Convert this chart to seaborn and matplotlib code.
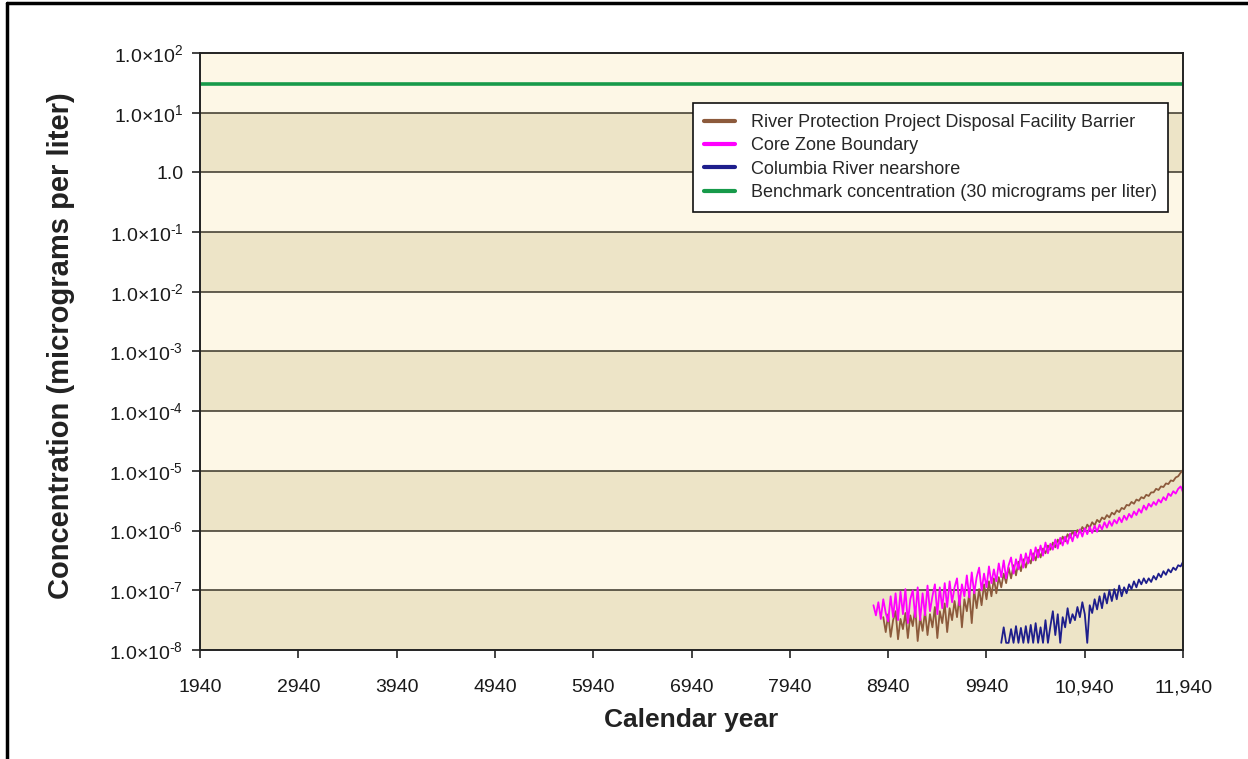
import numpy as np
import pandas as pd
import matplotlib.pyplot as plt
import seaborn as sns
from matplotlib.lines import Line2D
from matplotlib.ticker import NullLocator

# Values (log10 of concentration, micrograms per liter)
core_years = list(range(8790, 11941, 25))
core_log10 = [
    -7.25, -7.42, -7.20, -7.48, -7.15, -7.38, -7.52, -7.10, -7.45, -7.05,
    -7.50, -7.02, -7.40, -6.98, -7.55, -7.15, -7.00, -7.45, -6.95, -7.50,
    -7.05, -7.42, -6.92, -7.35, -7.10, -6.90, -7.40, -6.95, -7.30, -6.88,
    -7.28, -6.85, -7.20, -6.95, -6.80, -7.25, -6.90, -7.10, -6.75, -7.12,
    -6.70, -7.05, -6.78, -6.62, -7.00, -6.72, -6.95, -6.60, -6.88, -6.65,
    -6.85, -6.55, -6.78, -6.50, -6.80, -6.58, -6.45, -6.72, -6.48, -6.65,
    -6.40, -6.62, -6.38, -6.55, -6.32, -6.50, -6.28, -6.45, -6.25, -6.42,
    -6.20, -6.38, -6.22, -6.32, -6.15, -6.30, -6.12, -6.25, -6.10, -6.22,
    -6.05, -6.18, -6.02, -6.12, -5.98, -6.10, -5.96, -6.06, -5.94, -6.04,
    -5.92, -6.02, -5.90, -5.98, -5.86, -5.95, -5.84, -5.92, -5.82, -5.88,
    -5.78, -5.86, -5.75, -5.82, -5.72, -5.78, -5.68, -5.74, -5.64, -5.70,
    -5.58, -5.65, -5.55, -5.60, -5.52, -5.57, -5.48, -5.53, -5.44, -5.49,
    -5.38, -5.42, -5.34, -5.38, -5.30, -5.26, -5.36,
]

rpp_years = list(range(8890, 11941, 25))
rpp_log10 = [
    -7.45, -7.70, -7.40, -7.78, -7.50, -7.35, -7.82, -7.48, -7.65, -7.38,
    -7.80, -7.42, -7.60, -7.30, -7.85, -7.45, -7.68, -7.35, -7.75, -7.40,
    -7.62, -7.28, -7.80, -7.35, -7.55, -7.22, -7.70, -7.30, -7.50, -7.18,
    -7.45, -7.10, -7.62, -7.15, -7.35, -7.05, -7.55, -7.00, -7.30, -6.98,
    -7.25, -6.90, -7.15, -6.85, -7.10, -6.80, -7.05, -6.78, -6.95, -6.72,
    -6.88, -6.62, -6.80, -6.58, -6.75, -6.52, -6.68, -6.48, -6.62, -6.45,
    -6.55, -6.38, -6.50, -6.32, -6.45, -6.30, -6.38, -6.25, -6.32, -6.20,
    -6.28, -6.15, -6.22, -6.10, -6.18, -6.06, -6.12, -6.02, -6.08, -5.99,
    -6.03, -5.94, -6.00, -5.90, -5.95, -5.86, -5.91, -5.82, -5.86, -5.78,
    -5.81, -5.74, -5.78, -5.70, -5.73, -5.66, -5.69, -5.62, -5.64, -5.57,
    -5.58, -5.52, -5.55, -5.48, -5.50, -5.44, -5.46, -5.40, -5.42, -5.36,
    -5.36, -5.30, -5.32, -5.26, -5.27, -5.21, -5.22, -5.16, -5.17, -5.11,
    -5.09, -5.03, -4.98,
]

river_years = list(range(10090, 11941, 25))
river_log10 = [
    -7.88, -7.62, -7.88, -7.88, -7.65, -7.88, -7.60, -7.88, -7.63, -7.88,
    -7.60, -7.88, -7.58, -7.88, -7.55, -7.88, -7.62, -7.88, -7.50, -7.88,
    -7.60, -7.35, -7.75, -7.40, -7.88, -7.45, -7.62, -7.30, -7.55, -7.40,
    -7.50, -7.28, -7.45, -7.20, -7.40, -7.88, -7.25, -7.38, -7.15, -7.32,
    -7.10, -7.30, -7.05, -7.22, -7.00, -7.18, -6.98, -7.15, -6.92, -7.10,
    -6.95, -7.05, -6.90, -6.98, -6.85, -6.95, -6.82, -6.90, -6.80, -6.88,
    -6.80, -6.86, -6.76, -6.82, -6.72, -6.78, -6.68, -6.74, -6.65, -6.70,
    -6.62, -6.66, -6.58, -6.60, -6.52,
]

benchmark_years = [1940, 11940]
benchmark_value = [30, 30]

labels = [
    "River Protection Project Disposal Facility Barrier",
    "Core Zone Boundary",
    "Columbia River nearshore",
    "Benchmark concentration (30 micrograms per liter)",
]
colors = ["#8c5a3c", "#ff00ff", "#1e1e8c", "#179a4a"]

xticks = list(range(1940, 11941, 1000))
xtick_labels = ["1940", "2940", "3940", "4940", "5940", "6940", "7940",
                "8940", "9940", "10,940", "11,940"]
yexps = list(range(-8, 3))
ytick_labels = [r"$1.0{\times}10^{‐8}$", r"$1.0{\times}10^{‐7}$", r"$1.0{\times}10^{‐6}$",
                r"$1.0{\times}10^{‐5}$", r"$1.0{\times}10^{‐4}$", r"$1.0{\times}10^{‐3}$",
                r"$1.0{\times}10^{‐2}$", r"$1.0{\times}10^{‐1}$", "1.0",
                r"$1.0{\times}10^{1}$", r"$1.0{\times}10^{2}$"]

sns.set_style("white")
plt.rcParams["font.family"] = ["Liberation Sans", "DejaVu Sans"]
plt.rcParams["mathtext.fontset"] = "custom"
plt.rcParams["mathtext.rm"] = "Liberation Sans"
plt.rcParams["mathtext.it"] = "Liberation Sans"
plt.rcParams["mathtext.default"] = "regular"

fig = plt.figure(figsize=(12.48, 7.59), dpi=100)
ax = fig.add_axes([0.1603, 0.1436, 0.7877, 0.7866])

# alternating decade bands
light, dark = "#fdf7e6", "#ede4c7"
for k, e in enumerate(yexps[:-1]):
    ax.axhspan(10.0 ** e, 10.0 ** (e + 1), color=dark if k % 2 == 0 else light, lw=0, zorder=0)

series = [
    (rpp_years, rpp_log10),
    (core_years, core_log10),
    (river_years, river_log10),
]
for (yrs, lg), c in zip(series, colors[:3]):
    sns.lineplot(x=yrs, y=10.0 ** np.array(lg), color=c, lw=1.3, ax=ax, zorder=3)
sns.lineplot(x=benchmark_years, y=benchmark_value, color=colors[3], lw=2.6, ax=ax, zorder=4)

ax.set_yscale("log")
ax.set_ylim(1e-8, 1e2)
ax.set_xlim(1940, 11940)
ax.yaxis.set_minor_locator(NullLocator())
ax.set_yticks([10.0 ** e for e in yexps])
ax.set_yticklabels(ytick_labels)
ax.set_xticks(xticks)
ax.set_xticklabels(xtick_labels)
ax.tick_params(axis="both", which="major", direction="out", length=6, width=1.2,
               color="#222222", labelsize=14, labelcolor="#1a1a1a", left=True, bottom=True)
ax.tick_params(axis="x", pad=15)
ax.tick_params(axis="y", pad=6)

ax.grid(False)
for e in yexps[1:-1]:
    ax.axhline(10.0 ** e, color="#3a3528", lw=1.1, zorder=2)

for s in ax.spines.values():
    s.set_color("#222222")
    s.set_linewidth(1.4)
    s.set_zorder(5)

ax.set_xlabel("Calendar year", fontsize=19, fontweight="bold", color="#222222")
ax.set_ylabel("Concentration (micrograms per liter)", fontsize=21, fontweight="bold",
              color="#222222")
ax.xaxis.set_label_coords(0.5, -0.097)
ax.yaxis.set_label_coords(-0.127, 0.51)

handles = [Line2D([0], [0], color=c, lw=3) for c in colors]
leg = ax.legend(handles, labels, loc="upper left", bbox_to_anchor=(0.5015, 0.916),
                borderaxespad=0, fontsize=13, frameon=True, fancybox=False,
                edgecolor="#111111", facecolor="white", framealpha=1,
                handlelength=1.7, handletextpad=0.9, labelspacing=0.35,
                borderpad=0.6)
leg.get_frame().set_linewidth(1.2)
leg.set_zorder(6)

# outer frame: left and top edge of the figure
fig.add_artist(Line2D([0.0056, 0.0056], [0.0, 0.996], transform=fig.transFigure,
                      color="black", lw=2.5))
fig.add_artist(Line2D([0.0056, 1.0], [0.996, 0.996], transform=fig.transFigure,
                      color="black", lw=2.5))

fig.savefig("out.png", dpi=100, facecolor="white")
